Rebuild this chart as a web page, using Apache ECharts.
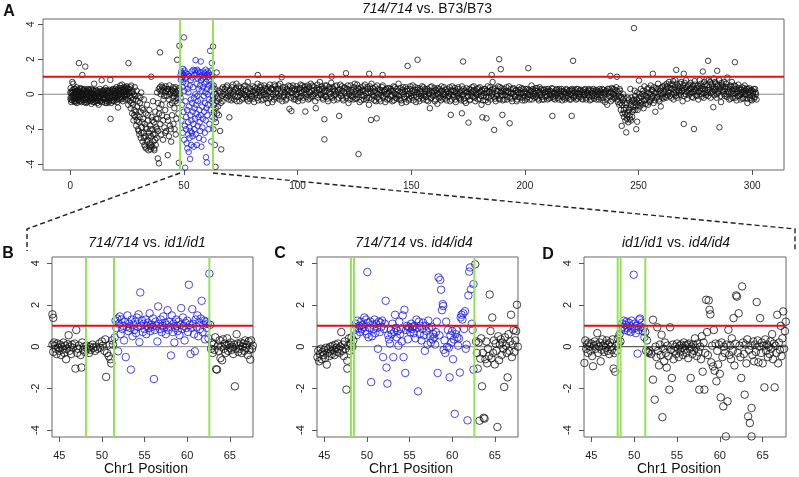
<!DOCTYPE html>
<html><head><meta charset="utf-8">
<script src="https://cdn.jsdelivr.net/npm/echarts@6/dist/echarts.min.js"></script>
<style>html,body{margin:0;padding:0;background:#fff}#c{width:799px;height:477px}</style>
</head><body><div id="c"></div>
<script>
// ---------- Panel A (genome-wide) ----------
const aXTicks = [0, 50, 100, 150, 200, 250, 300];
const yTicks = [-4, -2, 0, 2, 4];
const zoomXTicks = [45, 50, 55, 60, 65];
const redLevel = 1;
const greenA = [48.3, 62.8];
const greenB = [48.13, 51.42, 62.6];
const greenC = [48.13, 48.48, 62.6];
const greenD = [48.08, 48.42, 51.3];

const aLeft = [[0.0,0.1],[0.2,-0.3],[0.4,-0.45],[0.6,0.15],[0.9,0.7],[1.1,-0.1],[1.3,0.6],[1.5,-0.25],[1.8,0.05],[2.0,-0.4],[2.2,0.3],[2.5,-0.15],[2.7,0.2],[2.9,-0.5],[3.2,-0.05],[3.4,0.25],[3.6,-0.3],[3.8,1.78],[4.0,0.1],[4.3,-0.2],[4.5,0.35],[4.7,-0.35],[5.0,0.0],[5.3,1.1],[5.5,-0.25],[5.7,0.2],[6.0,-0.1],[6.2,-0.45],[6.6,1.58],[6.8,0.15],[7.0,-0.3],[7.3,0.05],[7.5,-0.2],[7.8,0.3],[8.0,-0.4],[8.3,-0.05],[8.5,0.2],[8.8,-0.25],[9.0,0.1],[9.3,-0.55],[9.5,-0.15],[9.8,0.25],[10.0,-0.3],[10.3,0.0],[10.5,0.6],[10.8,-0.2],[11.0,0.15],[11.3,-0.4],[11.5,-0.1],[11.8,0.2],[12.0,-0.35],[12.3,0.05],[12.5,-0.6],[12.8,-0.15],[13.0,0.3],[13.3,-0.25],[13.5,0.1],[13.8,0.8],[14.0,-0.45],[14.3,-0.05],[14.5,0.2],[14.8,-0.3],[15.0,0.0],[15.3,-0.2],[15.5,0.35],[15.8,-0.4],[16.0,-0.1],[16.3,0.15],[16.5,-0.3],[16.8,0.05],[17.0,-0.2],[17.3,0.25],[17.6,0.82],[17.7,-1.41],[18.0,-0.5],[18.3,0.1],[18.5,-0.15],[18.8,0.3],[19.0,-0.35],[19.3,0.0],[19.5,-0.2],[19.8,0.2],[20.0,-0.1],[20.3,0.4],[20.5,-0.3],[20.8,0.05],[21.0,-0.76],[21.3,0.2],[21.5,-0.05],[21.8,0.35],[22.0,0.5],[22.3,-0.15],[22.5,0.1],[22.8,0.55],[23.0,-0.1],[23.3,0.25],[23.5,0.4],[23.8,0.0],[24.0,0.3],[24.3,-0.3],[24.5,0.15],[24.8,0.45],[25.0,-0.05],[25.3,0.3],[25.6,1.78],[25.8,0.1]];
const aLeft2 = [[0.1,-0.2],[0.5,0.05],[0.8,-0.35],[1.0,0.25],[1.4,-0.05],[1.7,0.3],[1.9,-0.2],[2.3,-0.45],[2.6,0.1],[3.0,0.2],[3.3,-0.35],[3.7,0.0],[4.1,-0.4],[4.4,0.15],[4.8,-0.1],[5.1,0.3],[5.6,-0.05],[5.9,0.25],[6.4,-0.2],[6.9,-0.5],[7.2,0.2],[7.6,0.0],[8.1,0.25],[8.4,-0.3],[8.9,0.1],[9.2,-0.2],[9.7,0.05],[10.1,-0.45],[10.4,-0.2],[10.9,-0.1],[11.2,0.25],[11.7,-0.3],[12.1,0.1],[12.6,-0.2],[13.1,-0.4],[13.6,0.0],[14.1,0.2],[14.6,-0.25],[15.1,0.25],[15.6,-0.05],[16.1,-0.5],[16.6,0.2],[17.1,-0.35],[17.5,-0.1],[18.1,0.15],[18.6,-0.4],[19.1,0.2],[19.6,-0.1],[20.1,0.05],[20.6,-0.45],[21.1,-0.1],[21.6,0.15],[22.1,-0.3],[22.6,0.25],[23.1,-0.4],[23.6,0.1],[24.1,-0.15],[24.6,0.2],[25.1,0.35],[25.5,-0.6]];
const aLeft3 = [[0.15,0.35],[0.7,-0.15],[1.2,0.1],[1.6,-0.4],[2.1,0.15],[2.4,-0.1],[2.8,0.4],[3.1,-0.25],[3.5,0.1],[3.9,-0.15],[4.2,0.3],[4.6,-0.05],[4.9,-0.45],[5.2,0.1],[5.8,-0.35],[6.1,0.3],[6.5,0.0],[6.7,-0.3],[7.1,0.1],[7.4,-0.45],[7.9,-0.1],[8.2,0.1],[8.7,-0.4],[9.1,0.3],[9.6,-0.3],[9.9,0.0],[10.2,0.2],[10.7,-0.45],[11.1,-0.25],[11.6,0.05],[11.9,-0.5],[12.4,-0.1],[12.9,0.15],[13.4,-0.35],[13.9,0.05],[14.4,-0.2],[14.9,0.1],[15.4,-0.5],[15.9,0.2],[16.4,-0.2],[16.9,-0.45],[17.4,0.1],[17.9,-0.25],[18.4,0.25],[18.9,-0.1],[19.4,-0.4],[19.9,0.3],[20.4,-0.2],[20.9,0.25],[21.4,-0.3],[21.9,0.05],[22.4,0.35],[22.9,-0.25],[23.4,0.15],[23.9,-0.1],[24.4,0.4],[24.9,0.0],[25.4,-0.25]];
const aDip = [[26.0,0.3],[26.2,-0.4],[26.4,0.1],[26.6,-0.8],[26.8,0.5],[27.0,-0.2],[27.2,-1.1],[27.4,0.2],[27.6,-0.6],[27.8,-1.5],[28.0,0.0],[28.2,-0.9],[28.4,0.4],[28.6,-1.3],[28.8,-0.3],[29.0,-1.8],[29.2,0.2],[29.4,-0.7],[29.6,-1.2],[29.8,-2.0],[30.0,-0.1],[30.2,-1.6],[30.4,-2.3],[30.6,-0.5],[30.8,-1.0],[31.0,-2.5],[31.2,0.1],[31.4,-1.9],[31.6,-0.8],[31.8,-2.7],[32.0,-1.4],[32.2,-2.2],[32.4,-0.3],[32.6,-2.9],[32.8,-1.7],[33.0,-2.4],[33.2,-1.1],[33.4,-3.1],[33.6,-2.0],[33.8,-0.6],[34.0,-2.6],[34.2,-1.5],[34.4,-3.2],[34.6,-2.2],[34.8,-0.9],[35.0,-2.8],[35.2,-1.8],[35.4,-3.15],[35.6,1.0],[35.6,-2.4],[35.8,-1.3],[36.0,-3.0],[36.2,-2.0],[36.4,-0.4],[36.6,-2.7],[36.8,-1.6],[37.0,-3.2],[37.2,-2.3],[37.4,-1.0],[37.6,-2.9],[37.8,-1.9],[38.0,-2.5],[38.2,0.1],[38.4,-1.4],[38.5,-3.67],[38.7,-2.1],[38.9,0.3],[39.0,-3.95],[39.2,-0.8],[39.4,0.4],[39.5,2.39],[39.6,-1.7],[39.8,0.0],[40.0,-2.3],[40.2,0.5],[40.4,-1.2],[40.6,0.2],[40.8,-2.6],[41.0,-0.3],[41.2,0.35],[41.4,-1.9],[41.6,0.1],[41.8,-0.9],[42.0,0.45],[42.2,-2.1],[42.4,-0.1],[42.6,0.3],[42.9,-3.48],[43.0,-1.5],[43.2,0.15],[43.4,-2.4],[43.6,0.5],[43.8,-0.6],[44.0,0.0],[44.2,-2.0],[44.4,-2.71],[44.6,0.25],[44.8,-1.2],[45.0,-0.2],[45.2,0.4],[45.4,-1.7],[45.6,0.05],[45.8,-0.8],[46.0,0.3],[46.2,-0.4],[46.4,-2.3],[46.6,0.1],[46.8,-0.2],[47.0,1.97],[47.2,-0.5],[47.4,0.2],[47.6,-1.1],[47.8,-3.92],[48.0,2.77],[48.1,0.0]];
const aDip2 = [[26.1,-0.1],[26.5,0.4],[26.9,-0.5],[27.3,0.1],[27.7,-0.3],[28.1,-1.2],[28.5,-0.1],[28.9,-1.0],[29.3,-1.5],[29.7,-0.4],[30.1,-2.1],[30.5,-1.3],[30.9,-0.2],[31.3,-2.2],[31.7,-1.6],[32.1,-0.9],[32.5,-2.5],[32.9,-3.0],[33.3,-1.9],[33.7,-2.7],[34.1,-1.2],[34.5,-2.4],[34.9,-3.0],[35.3,-2.0],[35.7,-2.9],[36.1,-1.5],[36.5,-2.3],[36.9,-3.1],[37.3,-2.6],[37.7,-1.4],[38.1,-2.0],[38.6,-0.5],[39.1,-1.1],[39.7,0.2],[40.1,-0.6],[40.5,0.4],[40.9,-1.5],[41.3,-0.1],[41.7,-2.2],[42.1,0.2],[42.5,-1.3],[43.1,0.3],[43.5,-0.3],[43.9,-1.8],[44.3,0.1],[44.7,-0.5],[45.1,0.2],[45.5,-0.1],[45.9,-2.0],[46.3,0.4],[46.7,-1.4],[47.1,0.0],[47.5,-0.3],[47.9,0.35]];
const aBlue = [[48.5,1.1],[48.6,-0.2],[48.7,0.8],[48.8,1.3],[48.9,-1.5],[49.0,0.9],[49.1,1.2],[49.2,-0.6],[49.3,1.0],[49.4,0.4],[49.5,-2.2],[49.6,1.45],[49.7,0.7],[49.8,-1.0],[49.9,1.1],[50.0,3.25],[50.1,-2.6],[50.2,0.2],[50.3,1.35],[50.4,-1.8],[50.5,-4.2],[50.6,0.9],[50.7,-0.4],[50.8,1.2],[50.9,-2.0],[51.0,-1.3],[51.1,0.6],[51.2,-2.8],[51.3,1.0],[51.4,-0.9],[51.5,-3.1],[51.6,0.3],[51.7,1.15],[51.8,-1.6],[51.9,-2.3],[52.0,0.1],[52.1,-3.3],[52.2,-0.7],[52.3,1.05],[52.4,-1.9],[52.5,-2.5],[52.6,0.5],[52.7,-3.7],[52.8,-1.2],[52.9,-2.1],[53.0,0.8],[53.1,-0.3],[53.2,-2.9],[53.3,-1.5],[53.4,1.3],[53.5,-2.2],[53.6,-0.5],[53.7,0.95],[53.8,-2.4],[53.9,-1.0],[54.0,0.4],[54.1,1.4],[54.2,-1.7],[54.3,-3.0],[54.4,-0.2],[54.5,1.1],[54.6,-2.0],[54.7,-0.8],[54.8,1.35],[54.9,-1.4],[55.0,0.0],[55.1,1.95],[55.2,-2.3],[55.3,-0.6],[55.4,1.2],[55.5,-1.1],[55.6,0.6],[55.7,-2.9],[55.8,1.4],[55.9,-0.1],[56.0,-1.8],[56.1,0.9],[56.2,-0.4],[56.3,1.3],[56.4,-1.3],[56.5,0.3],[56.6,-2.5],[56.7,1.0],[56.8,-0.9],[56.9,-1.6],[57.0,0.5],[57.1,1.25],[57.2,-2.1],[57.3,-0.3],[57.4,1.87],[57.5,-1.2],[57.6,0.8],[57.7,-3.0],[57.8,0.2],[57.9,1.1],[58.0,-0.7],[58.1,-1.9],[58.2,0.9],[58.3,-1.4],[58.4,0.4],[58.5,1.3],[58.6,-2.6],[58.7,-0.1],[58.8,1.0],[58.9,-1.0],[59.0,0.6],[59.1,1.2],[59.2,-2.2],[59.3,-0.5],[59.4,0.1],[59.5,1.4],[59.6,-1.5],[59.7,-3.6],[59.8,0.7],[59.9,-0.8],[60.0,1.1],[60.1,-3.9],[60.2,0.3],[60.3,-1.2],[60.4,1.3],[60.5,0.0],[60.6,-0.6],[60.7,1.0],[60.8,-2.0],[60.9,0.5],[61.0,1.2],[61.1,-0.3],[61.2,-1.7],[61.3,0.8],[61.5,2.48],[61.6,1.1],[61.7,-0.9],[61.8,0.2],[61.9,1.35],[62.0,-2.7],[62.1,0.6],[62.2,-0.4],[62.3,1.78],[62.4,1.0],[62.5,-1.3],[62.6,0.4],[62.7,-0.1]];
const aTrans = [[62.8,2.73],[62.9,-0.3],[63.0,-2.0],[63.1,0.5],[63.2,-1.0],[63.3,-0.6],[63.4,0.1],[63.5,-1.4],[63.6,-2.9],[63.7,0.3],[63.9,-4.15],[64.0,-0.8],[64.1,-1.6],[64.2,0.0],[64.4,1.24],[64.5,-0.4],[64.6,-1.1],[64.8,-0.2],[65.0,-0.7],[65.2,0.2],[65.4,-1.2],[65.6,-0.3],[65.9,-2.1],[66.0,0.1],[66.2,-0.5],[66.4,-3.15],[66.6,0.3],[66.8,-0.1],[67.0,-0.4],[67.2,0.4],[67.4,0.0]];
const aBand1 = [[68.0,0.3],[68.5,-0.2],[69.0,0.5],[69.5,-0.1],[70.0,-1.32],[70.3,0.2],[70.8,-0.35],[71.2,0.4],[71.7,0.0],[72.2,-0.3],[72.6,0.25],[73.1,0.6],[73.5,-0.15],[74.0,0.1],[74.5,-0.4],[75.0,0.35],[75.4,0.05],[75.9,-0.2],[76.3,0.45],[76.8,-0.05],[77.2,0.2],[77.7,-0.3],[78.1,0.7],[78.6,0.0],[79.0,-0.25],[79.5,0.3],[80.0,-0.1],[80.4,0.15],[80.9,-0.45],[81.3,0.4],[81.8,0.05],[82.2,-0.2],[82.5,1.1],[82.9,0.25],[83.3,-0.1],[83.8,0.5],[84.2,-0.35],[84.7,0.1],[85.1,-0.05],[85.6,0.35],[86.0,-0.25],[86.5,0.2],[86.9,-0.5],[87.4,0.15],[87.8,0.55],[88.3,-0.15],[88.7,0.3],[89.2,0.0],[89.6,-0.3],[90.1,0.45],[90.5,0.1],[91.0,-0.2],[91.4,0.3],[91.9,-0.1],[92.3,0.6],[92.8,0.05],[93.0,0.97],[93.3,-0.4],[93.7,0.25],[94.2,-0.05],[94.6,0.4],[95.1,-0.25],[95.5,0.15],[96.0,0.5],[96.4,-0.84],[96.9,0.1],[97.3,-0.96],[97.7,0.35],[98.2,-0.15],[98.6,0.2],[99.1,-0.3],[99.5,0.45],[100.0,0.0],[100.4,0.3],[100.9,-0.2],[101.3,0.55],[101.8,0.1],[102.2,-0.35],[102.7,0.4],[103.1,0.0],[103.4,-0.99],[103.6,0.25],[104.0,-0.15],[104.5,0.5],[104.9,0.15],[105.4,-0.25],[105.8,0.6],[106.3,0.2],[106.7,-0.1],[107.2,0.45],[107.6,0.05],[108.0,-0.8],[108.5,0.35],[108.9,-0.2],[109.4,0.25],[109.8,0.7],[110.3,-0.05],[110.7,0.3],[111.2,-0.3],[111.6,0.15],[111.8,-1.43],[111.8,-2.58],[112.1,0.5],[112.5,-0.15],[113.0,0.2],[113.4,-0.4],[113.9,0.4],[114.3,0.0],[114.8,0.65],[115.0,1.01],[115.2,-0.2],[115.7,0.3],[116.1,-0.05],[116.6,0.45],[117.0,0.1],[117.5,-0.3],[117.9,0.25],[118.3,-1.24],[118.8,0.55],[119.2,-0.1],[119.7,0.2],[120.1,-0.35],[120.6,0.4],[121.0,0.05],[121.3,1.2],[121.5,-0.2],[121.9,0.3],[122.4,-0.5],[122.8,0.15],[123.3,0.5],[123.7,-0.1],[124.2,0.25],[124.6,-0.3],[125.1,0.6],[125.5,0.0],[126.0,-0.25],[126.4,0.35],[126.8,-3.42],[126.9,0.1],[127.3,-0.45],[127.8,0.4],[128.2,-0.05],[128.7,0.2],[129.1,-0.3],[129.6,0.55],[130.0,0.05],[130.5,-0.2],[130.9,0.3],[131.4,-0.6],[131.5,1.17],[131.8,0.45],[132.3,-1.47],[132.3,0.1],[132.7,-0.25],[133.2,0.35],[133.6,-0.1],[134.1,0.2],[134.5,-0.4],[134.8,-1.38],[135.0,0.5],[135.4,0.0],[135.9,-0.3],[136.3,0.25],[136.8,-0.05],[137.2,0.4],[137.4,1.1],[137.7,-0.2],[138.1,0.15],[138.6,-0.45],[139.0,0.3],[139.5,0.0]];
const aBand1b = [[68.2,-0.05],[68.7,0.4],[69.2,0.1],[69.7,-0.3],[70.1,0.25],[70.6,0.05],[71.0,-0.2],[71.5,0.55],[71.9,0.15],[72.4,-0.1],[72.9,0.35],[73.3,-0.4],[73.8,0.2],[74.2,0.45],[74.7,-0.05],[75.2,0.15],[75.6,-0.3],[76.1,0.3],[76.5,0.0],[77.0,0.5],[77.4,-0.15],[77.9,0.1],[78.3,-0.4],[78.8,0.35],[79.2,0.15],[79.7,-0.1],[80.2,0.45],[80.6,-0.25],[81.1,0.2],[81.5,-0.05],[82.0,0.3],[82.4,0.6],[82.7,-0.35],[83.1,0.15],[83.5,0.4],[84.0,0.05],[84.4,0.25],[84.9,-0.3],[85.3,0.5],[85.8,0.0],[86.2,0.3],[86.7,-0.1],[87.1,0.4],[87.6,-0.25],[88.0,0.1],[88.5,0.35],[88.9,-0.45],[89.4,0.25],[89.8,0.55],[90.3,-0.15],[90.7,0.3],[91.2,0.0],[91.6,0.5],[92.1,-0.3],[92.5,0.2],[93.5,0.4],[93.9,-0.15],[94.4,0.1],[94.8,-0.35],[95.3,0.3],[95.7,-0.05],[96.2,0.2],[96.7,0.45],[97.1,-0.2],[97.5,0.05],[98.0,0.5],[98.4,-0.3],[98.9,0.3],[99.3,0.0],[99.8,0.25],[100.2,-0.4],[100.7,0.1],[101.1,0.35],[101.6,-0.1],[102.0,0.5],[102.5,-0.2],[102.9,0.25],[103.3,0.45],[103.8,0.05],[104.2,0.3],[104.7,-0.3],[105.1,0.4],[105.6,0.1],[106.0,-0.15],[106.5,0.5],[106.9,0.0],[107.4,0.25],[107.8,-0.4],[108.3,0.15],[108.7,0.55],[109.2,-0.05],[109.6,0.3],[110.1,0.0],[110.5,0.45],[111.0,-0.2],[111.4,0.35],[111.9,-0.1],[112.3,0.2],[112.8,0.5],[113.2,-0.25],[113.7,0.1],[114.1,0.3],[114.6,-0.15],[115.4,0.4],[115.9,-0.35],[116.3,0.2],[116.8,0.0],[117.2,0.5],[117.7,0.15],[118.1,-0.2],[118.6,0.3],[119.0,0.05],[119.5,0.45],[119.9,-0.25],[120.4,0.15],[120.8,0.35],[121.7,-0.1],[122.1,0.5],[122.6,0.0],[123.0,-0.3],[123.5,0.25],[123.9,0.1],[124.4,-0.15],[124.8,0.4],[125.3,-0.25],[125.7,0.2],[126.2,0.55],[126.6,-0.05],[127.1,0.3],[127.5,0.1],[128.0,-0.35],[128.4,0.25],[128.9,0.45],[129.3,-0.1],[129.8,0.2],[130.2,-0.3],[130.7,0.4],[131.1,0.1],[131.6,-0.2],[132.0,0.3],[132.5,0.6],[132.9,-0.05],[133.4,0.15],[133.8,-0.35],[134.3,0.4],[134.7,0.05],[135.2,-0.2],[135.6,0.3],[136.1,0.1],[136.5,-0.4],[137.0,0.2],[137.5,0.5],[137.9,-0.1],[138.4,0.25],[138.8,0.0],[139.3,-0.3],[139.7,0.35]];
const aBand2 = [[139.9,-0.25],[140.4,0.35],[140.8,-0.1],[141.3,0.2],[141.7,-0.4],[142.2,0.45],[142.6,0.05],[143.1,-0.2],[143.5,0.3],[144.0,-0.05],[144.4,0.6],[144.9,-0.3],[145.3,0.15],[145.8,-0.5],[146.2,0.25],[146.7,0.0],[147.1,-0.25],[147.6,0.4],[148.0,-0.1],[148.4,1.62],[148.5,0.2],[148.9,-0.35],[149.4,0.3],[149.8,0.05],[150.3,-0.2],[150.7,0.5],[151.2,-0.05],[151.6,0.25],[152.1,-0.45],[152.5,0.1],[152.8,1.97],[153.0,0.35],[153.4,-0.25],[153.9,0.15],[154.3,-0.1],[154.8,0.45],[155.2,-0.3],[155.7,0.0],[156.1,0.3],[156.6,-0.15],[157.0,0.2],[157.5,-0.4],[157.9,0.05],[158.2,-0.8],[158.4,0.4],[158.8,-0.2],[159.3,0.1],[159.7,-0.05],[160.2,0.35],[160.6,-0.3],[161.1,0.2],[161.5,-0.55],[162.0,0.0],[162.4,0.3],[162.9,-0.15],[163.3,0.45],[163.8,-0.25],[164.2,0.1],[164.7,-0.05],[165.1,0.25],[165.6,-0.35],[166.0,0.15],[166.5,-0.1],[166.9,0.4],[167.4,-1.18],[167.4,0.0],[167.8,-0.3],[168.3,0.2],[168.7,-0.15],[169.2,0.35],[169.6,-0.45],[170.1,0.05],[170.5,0.3],[171.0,-0.2],[171.4,0.1],[171.9,-0.35],[172.3,-1.09],[172.3,0.45],[172.8,1.87],[172.8,0.0],[173.2,-0.25],[173.7,0.2],[174.1,-0.5],[174.6,0.15],[175.0,-0.1],[175.2,-1.62],[175.5,0.3],[175.9,-0.3],[176.4,0.05],[176.8,0.4],[177.3,-0.15],[177.7,0.25],[178.2,-0.4],[178.6,0.1],[179.1,-0.05],[179.5,0.35],[180.0,-0.25],[180.4,0.15],[180.9,-0.6],[181.3,-1.32],[181.3,0.2],[181.8,-0.1],[182.2,0.3],[182.7,-0.35],[183.1,-1.38],[183.1,0.05],[183.6,0.45],[184.0,-0.2],[184.5,0.1],[184.9,-0.3],[185.4,1.1],[185.4,0.25],[185.8,0.7],[186.3,-0.15],[186.5,-2.04],[186.7,0.35],[187.2,-0.4],[187.6,0.0],[188.1,0.2],[188.5,-0.25],[188.7,2.0],[189.0,0.4],[189.4,1.43],[189.4,-0.1],[189.9,0.15],[190.1,-1.18],[190.3,-0.35],[190.8,0.3],[191.2,-0.05],[191.7,0.2],[192.1,-0.3],[192.6,0.1],[193.0,0.45],[193.3,-1.66],[193.5,-0.2],[193.9,0.05],[194.4,-0.4],[194.8,0.3],[195.3,0.0],[195.7,-0.15],[196.2,0.25],[196.6,-0.3],[197.1,0.1],[197.5,0.4],[198.0,-0.2],[198.4,0.05],[198.9,-0.35],[199.3,0.3],[199.8,-0.1]];
const aBand2b = [[140.1,0.15],[140.6,-0.3],[141.0,0.3],[141.5,-0.05],[141.9,0.2],[142.4,-0.35],[142.8,0.4],[143.3,0.0],[143.7,-0.25],[144.2,0.2],[144.6,-0.1],[145.1,0.35],[145.5,-0.35],[146.0,0.1],[146.4,0.4],[146.9,-0.15],[147.3,0.2],[147.8,-0.45],[148.2,0.3],[148.7,0.0],[149.1,-0.25],[149.6,0.45],[150.0,-0.1],[150.5,0.2],[150.9,-0.35],[151.4,0.1],[151.8,0.4],[152.3,-0.15],[152.7,0.25],[153.2,0.0],[153.6,-0.4],[154.1,0.3],[154.5,0.05],[155.0,-0.2],[155.4,0.4],[155.9,-0.1],[156.3,0.15],[156.8,-0.35],[157.2,0.3],[157.7,0.0],[158.1,0.2],[158.6,-0.25],[159.0,0.45],[159.5,-0.1],[159.9,0.15],[160.4,-0.4],[160.8,0.25],[161.3,0.0],[161.7,0.35],[162.2,-0.2],[162.6,0.1],[163.1,-0.35],[163.5,0.2],[164.0,0.0],[164.4,0.4],[164.9,-0.25],[165.3,0.1],[165.8,0.3],[166.2,-0.15],[166.7,0.05],[167.1,-0.4],[167.6,0.25],[168.0,0.45],[168.5,-0.05],[168.9,0.15],[169.4,-0.3],[169.8,0.2],[170.3,-0.1],[170.7,0.4],[171.2,0.0],[171.6,-0.25],[172.1,0.2],[172.5,-0.05],[173.0,0.3],[173.4,-0.4],[173.9,0.1],[174.3,0.35],[174.8,-0.15],[175.3,0.05],[175.7,-0.35],[176.2,0.25],[176.6,-0.1],[177.1,0.15],[177.5,0.45],[178.0,-0.2],[178.4,0.0],[178.9,0.3],[179.3,-0.3],[179.8,0.1],[180.2,0.4],[180.7,-0.1],[181.1,0.25],[181.6,-0.35],[182.0,0.05],[182.5,0.3],[182.9,-0.15],[183.4,0.2],[183.8,-0.45],[184.3,0.15],[184.7,0.4],[185.2,-0.1],[185.6,0.05],[186.1,0.3],[186.9,-0.25],[187.4,0.2],[187.8,-0.1],[188.3,0.45],[188.9,-0.3],[189.2,0.1],[189.7,0.35],[190.1,-0.05],[190.6,0.2],[191.0,-0.3],[191.5,0.1],[191.9,0.4],[192.4,-0.15],[192.8,0.15],[193.7,0.3],[194.1,-0.25],[194.6,0.05],[195.0,0.35],[195.5,-0.1],[195.9,0.2],[196.4,-0.4],[196.8,0.1],[197.3,-0.15],[197.7,0.25],[198.2,0.0],[198.6,0.35],[199.1,-0.2],[199.5,0.1],[200.0,-0.35]];
const aBand3 = [[200.2,0.15],[200.7,-0.25],[201.1,0.3],[201.5,1.49],[201.6,0.0],[202.0,-0.3],[202.5,0.2],[202.9,0.5],[203.4,-0.1],[203.8,0.1],[204.3,-0.2],[204.7,0.35],[205.2,-0.05],[205.6,0.2],[206.1,-0.35],[206.5,0.4],[207.0,0.05],[207.4,-0.15],[207.9,0.25],[208.3,-0.3],[208.8,0.1],[209.2,0.3],[209.7,-0.1],[210.1,0.15],[210.6,-0.25],[211.0,0.2],[211.5,-0.05],[211.9,0.35],[212.1,-1.24],[212.4,-0.15],[212.8,0.1],[213.3,-0.3],[213.7,0.25],[214.2,0.0],[214.6,-0.2],[215.1,0.3],[215.5,-0.1],[216.0,0.15],[216.4,-0.35],[216.9,0.2],[217.3,0.0],[217.8,-0.2],[218.2,0.3],[218.7,-0.1],[219.1,0.1],[219.6,-0.3],[220.0,0.25],[220.6,-1.24],[220.5,-0.05],[220.9,0.2],[221.2,1.91],[221.4,-0.2],[221.8,0.1],[222.3,-0.1],[222.7,0.3],[223.2,-0.25],[223.6,0.05],[224.1,0.2],[224.5,-0.15],[225.0,0.1],[225.4,-0.3],[225.9,0.25],[226.3,0.0],[226.8,-0.2],[227.2,0.15],[227.7,-0.05],[228.1,0.3],[228.6,-0.35],[229.0,0.1],[229.5,-0.1],[229.9,0.2],[230.4,-0.25],[230.8,0.05],[231.3,0.25],[231.7,-0.15],[232.2,0.1],[232.6,-0.3],[233.1,0.2],[233.5,-0.05],[234.0,0.3],[234.4,-0.2],[234.9,0.1],[235.3,-0.45],[235.8,0.2],[236.2,-0.6],[236.7,0.05],[237.1,0.3],[237.6,1.05],[237.6,-0.15],[238.0,0.15],[238.5,-0.3],[238.9,0.3],[239.4,0.0],[239.8,-0.2]];
const aBand3b = [[200.4,0.3],[200.9,0.05],[201.3,-0.15],[201.8,0.25],[202.2,-0.05],[202.7,0.15],[203.1,-0.3],[203.6,0.3],[204.0,0.0],[204.5,0.2],[204.9,-0.15],[205.4,0.35],[205.8,-0.25],[206.3,0.1],[206.7,-0.05],[207.2,0.3],[207.6,-0.3],[208.1,0.05],[208.5,0.25],[209.0,-0.15],[209.4,0.15],[209.9,-0.3],[210.3,0.3],[210.8,0.0],[211.2,-0.2],[211.7,0.15],[212.2,0.3],[212.6,-0.25],[213.1,0.05],[213.5,-0.1],[214.0,0.3],[214.4,0.1],[214.9,-0.3],[215.3,0.2],[215.8,0.0],[216.2,0.3],[216.7,-0.15],[217.1,0.15],[217.6,-0.3],[218.0,0.05],[218.5,0.25],[218.9,-0.2],[219.4,0.2],[219.8,0.0],[220.3,-0.3],[220.7,0.3],[221.1,0.05],[221.6,-0.15],[222.0,0.25],[222.5,-0.3],[222.9,0.1],[223.4,0.3],[223.8,-0.15],[224.3,0.0],[224.7,0.25],[225.2,-0.25],[225.6,0.15],[226.1,-0.05],[226.5,0.3],[227.0,-0.3],[227.4,0.05],[227.9,0.2],[228.3,-0.15],[228.8,0.25],[229.2,-0.3],[229.7,0.05],[230.1,0.3],[230.6,-0.1],[231.0,0.15],[231.5,-0.3],[231.9,0.2],[232.4,0.0],[232.8,0.3],[233.3,-0.2],[233.7,0.1],[234.2,-0.35],[234.6,0.25],[235.1,0.0],[235.5,0.15],[236.0,-0.25],[236.4,0.3],[236.9,-0.1],[237.3,0.1],[237.8,-0.4],[238.2,0.35],[238.7,0.0],[239.1,-0.2],[239.6,0.25]];
const aDip3 = [[240.2,0.4],[240.5,1.0],[240.7,-0.3],[241.1,0.1],[241.5,-0.6],[241.9,0.2],[242.2,-0.9],[242.6,-1.81],[242.6,-0.2],[243.0,-1.1],[243.3,0.0],[243.6,-1.3],[243.9,-0.5],[244.2,-1.5],[244.6,-2.18],[244.6,-0.8],[244.9,-1.4],[245.2,-0.2],[245.5,-1.6],[245.8,-0.9],[246.1,-1.2],[246.4,0.3],[246.7,-1.5],[247.0,-0.4],[247.3,-1.0],[247.6,-0.7],[248.0,3.78],[248.0,-0.3],[248.3,0.2],[248.6,-0.9],[249.0,-2.0],[249.0,-0.5],[249.4,-1.57],[249.4,0.1],[249.8,-0.6],[250.2,0.78],[250.2,-0.2],[250.6,-0.7],[251.0,0.3],[251.4,-0.4],[251.8,0.0],[252.2,-0.8],[252.6,0.45],[253.0,-0.3],[253.4,-0.1],[253.8,0.3],[254.2,-0.6],[254.6,0.1],[255.0,-0.4],[255.4,0.5],[255.8,-0.2],[256.3,1.17],[256.2,0.2],[256.6,-0.5],[257.0,0.05],[257.4,-1.0],[257.8,0.35],[258.2,-0.15],[258.6,0.6],[259.0,-0.3],[259.4,0.2],[259.8,-0.7],[260.2,0.4],[260.6,0.0],[261.0,-0.25],[261.4,0.5],[261.8,0.1]];
const aRight = [[262.2,-0.2],[262.6,0.45],[263.0,0.15],[263.4,0.7],[263.8,-0.1],[264.2,0.35],[264.6,0.0],[265.0,0.55],[265.4,-0.3],[265.8,0.25],[266.2,0.8],[266.6,1.39],[266.6,0.1],[267.0,-0.2],[267.4,0.45],[267.8,0.2],[268.2,0.6],[268.6,-0.05],[269.0,0.35],[269.4,-0.4],[269.9,1.17],[269.9,-1.7],[269.9,0.25],[270.3,0.65],[270.7,0.0],[271.1,0.4],[271.5,-0.25],[271.9,0.2],[272.3,0.55],[272.7,0.05],[273.1,0.3],[273.5,-0.15],[273.9,0.5],[274.4,-1.99],[274.3,0.15],[274.7,0.75],[275.1,-0.05],[275.5,0.35],[275.9,0.1],[276.3,-0.3],[276.7,0.45],[277.1,0.2],[277.5,0.6],[277.9,0.0],[278.3,1.3],[278.3,0.3],[278.7,-0.2],[279.1,0.5],[279.5,0.1],[279.9,0.85],[280.3,0.25],[280.6,1.91],[280.7,-0.1],[281.1,0.4],[281.5,0.7],[281.9,0.05],[282.3,0.5],[282.9,-0.74],[282.7,0.3],[283.1,0.9],[283.5,0.2],[283.9,0.6],[284.3,-0.2],[284.6,1.34],[284.7,0.45],[285.1,0.1],[285.6,-1.89],[285.5,0.8],[285.9,0.3],[286.3,-0.45],[286.7,0.55],[287.1,0.15],[287.5,0.7],[287.9,-0.1],[288.3,0.4],[288.7,0.0],[289.1,0.95],[289.5,0.2],[289.9,-0.3],[290.3,0.5],[290.7,0.1],[291.1,0.7],[291.5,-0.2],[291.9,0.3],[292.4,1.83],[292.3,0.05],[292.7,0.45],[293.1,-0.35],[293.5,0.2],[293.9,0.55],[294.3,-0.1],[294.7,0.25],[295.1,0.0],[295.5,0.4],[295.9,-0.25],[296.3,0.15],[296.7,0.5],[297.1,-0.05],[297.5,0.3],[297.9,-0.5],[298.3,0.1],[298.7,0.35],[299.1,-0.2],[299.5,0.2],[299.9,-0.35],[300.3,0.05],[300.7,0.3],[301.1,-0.15],[301.5,0.1],[301.9,-0.3]];
const aRight2 = [[240.0,-0.1],[240.4,0.2],[240.9,-0.45],[241.3,-0.1],[241.7,0.3],[242.0,-0.5],[242.4,-0.15],[242.8,-0.6],[243.1,-0.3],[243.5,-0.9],[243.8,-0.2],[244.0,-1.1],[244.4,-0.6],[244.8,-1.2],[245.0,-0.5],[245.4,-1.0],[245.7,-0.3],[246.0,-0.8],[246.3,-1.4],[246.6,-0.6],[246.9,-0.2],[247.2,-1.3],[247.5,-0.35],[247.8,-0.9],[248.2,-0.5],[248.5,-0.1],[248.8,-0.7],[249.2,-0.3],[249.6,-0.9],[250.0,-0.4],[250.4,0.0],[250.8,-0.5],[251.2,-0.15],[251.6,-0.6],[252.0,0.2],[252.4,-0.35],[252.8,-0.05],[253.2,-0.55],[253.6,0.1],[254.0,-0.2],[254.4,0.35],[254.8,-0.45],[255.2,0.0],[255.6,-0.3],[256.0,0.25],[256.4,-0.1],[256.8,0.4],[257.2,-0.35],[257.6,0.1],[258.0,-0.2],[258.4,0.3],[258.8,0.0],[259.2,-0.4],[259.6,0.35],[260.0,0.05],[260.4,-0.2],[260.8,0.45],[261.2,0.15],[261.6,-0.15],[262.0,0.3],[262.4,0.6],[262.8,-0.05],[263.2,0.35],[263.6,0.1],[264.0,0.55],[264.4,-0.2],[264.8,0.3],[265.2,0.75],[265.6,0.05],[266.0,0.4],[266.4,-0.1],[266.8,0.6],[267.2,0.25],[267.6,-0.05],[268.0,0.4],[268.4,0.1],[268.8,0.7],[269.2,0.2],[269.6,0.5],[270.1,-0.1],[270.5,0.35],[270.9,0.8],[271.3,0.15],[271.7,0.5],[272.1,-0.05],[272.5,0.3],[272.9,0.65],[273.3,0.1],[273.7,0.4],[274.1,-0.2],[274.5,0.3],[274.9,0.55],[275.3,0.2],[275.7,-0.1],[276.1,0.5],[276.5,0.15],[276.9,0.8],[277.3,0.35],[277.7,-0.15],[278.1,0.45],[278.5,0.05],[278.9,0.7],[279.3,0.3],[279.7,-0.05],[280.1,0.5],[280.5,0.1],[280.9,0.8],[281.3,0.25],[281.7,-0.2],[282.1,0.6],[282.5,0.15],[282.9,0.4],[283.3,-0.05],[283.7,0.7],[284.1,0.3],[284.5,0.0],[284.9,0.55],[285.3,0.2],[285.7,0.4],[286.1,-0.1],[286.5,0.65],[286.9,0.25],[287.3,0.45],[287.7,0.0],[288.1,0.3],[288.5,0.6],[288.9,-0.15],[289.3,0.4],[289.7,0.1],[290.1,0.3],[290.5,-0.25],[290.9,0.45],[291.3,0.2],[291.7,0.0],[292.1,0.5],[292.5,-0.2],[292.9,0.3],[293.3,0.1],[293.7,-0.1],[294.1,0.35],[294.5,0.05],[294.9,-0.3],[295.3,0.25],[295.7,0.1],[296.1,-0.2],[296.5,0.35],[296.9,0.0],[297.3,0.2],[297.7,-0.25],[298.1,0.3],[298.5,-0.05],[298.9,0.15],[299.3,-0.3],[299.7,0.25],[300.1,-0.1],[300.5,0.15],[300.9,-0.25],[301.3,0.3],[301.7,0.0]];

// ---------- Panel B ----------
const bBlackL = [[44.2,1.55],[44.3,1.38],[44.2,0.1],[44.3,-0.25],[44.4,0.2],[44.5,0.05],[44.6,-0.1],[44.7,-0.35],[44.8,0.15],[44.9,-0.05],[45.0,-0.2],[45.1,0.1],[45.2,-0.4],[45.3,0.0],[45.4,-0.15],[45.5,0.2],[45.6,-0.3],[45.7,0.05],[45.8,-0.6],[45.9,-0.1],[46.0,0.12],[46.1,0.55],[46.2,-0.2],[46.3,0.0],[46.4,-0.35],[46.5,0.1],[46.6,-0.05],[46.8,0.15],[46.9,-1.05],[47.0,0.8],[47.1,-0.3],[47.2,-0.1],[47.3,0.05],[47.5,-0.4],[47.6,-1.0],[47.7,0.2],[47.8,-0.15],[47.9,0.0],[48.0,-0.25],[48.2,0.05],[48.3,-0.1],[48.5,-0.3],[48.6,0.0],[48.7,-0.15],[48.9,0.1],[49.0,-0.05],[49.2,-0.2],[49.3,0.0],[49.5,-0.1],[49.7,0.15],[49.8,-0.05],[50.0,0.25],[50.1,0.05],[50.3,-0.2],[50.4,0.35],[50.5,-1.45],[50.6,-0.3],[50.8,-0.45],[50.9,0.1],[51.0,-0.6],[51.1,-0.8],[51.2,0.3],[51.3,0.1]];
const bBlue = [[51.5,0.45],[51.6,1.25],[51.7,0.9],[51.8,1.35],[51.9,-0.22],[52.0,1.1],[52.1,1.45],[52.2,0.6],[52.3,1.3],[52.4,0.85],[52.5,1.0],[52.6,0.3],[52.7,1.2],[52.8,-0.5],[52.9,0.95],[53.0,1.5],[53.1,0.75],[53.2,1.1],[53.3,0.9],[53.4,-1.1],[53.5,1.3],[53.6,0.5],[53.7,1.05],[53.8,0.8],[53.9,1.2],[54.0,0.65],[54.1,1.4],[54.2,0.95],[54.3,1.55],[54.4,0.22],[54.5,2.6],[54.6,1.0],[54.7,1.25],[54.8,0.7],[54.9,1.1],[55.0,0.85],[55.1,1.3],[55.2,0.6],[55.3,1.0],[55.4,1.15],[55.5,0.9],[55.6,1.6],[55.7,0.75],[55.8,1.05],[55.9,0.95],[56.0,1.35],[56.1,-1.55],[56.2,0.8],[56.3,1.2],[56.4,1.0],[56.5,0.25],[56.6,1.93],[56.7,1.1],[56.8,0.85],[56.9,1.3],[57.0,0.7],[57.1,1.0],[57.2,1.45],[57.3,0.9],[57.4,1.15],[57.5,0.6],[57.6,1.05],[57.7,1.75],[57.8,0.8],[57.9,1.2],[58.0,0.95],[58.1,-0.42],[58.2,1.5],[58.3,0.7],[58.4,1.1],[58.5,0.2],[58.6,0.9],[58.7,1.3],[58.8,1.0],[58.9,0.75],[59.0,1.2],[59.1,0.55],[59.2,1.05],[59.3,1.85],[59.4,0.85],[59.5,1.4],[59.6,1.0],[59.7,0.3],[59.8,1.15],[59.9,0.9],[60.0,1.25],[60.1,0.7],[60.2,2.97],[60.3,1.05],[60.4,-0.35],[60.5,0.9],[60.6,1.8],[60.7,1.1],[60.8,0.6],[60.9,-0.22],[61.0,1.3],[61.1,0.95],[61.2,1.5],[61.3,0.5],[61.4,1.15],[61.5,0.85],[61.6,1.35],[61.7,2.2],[61.8,0.7],[61.9,1.05],[62.0,1.25],[62.1,0.35],[62.2,1.2],[62.3,0.9],[62.4,1.1],[62.5,0.4],[62.6,3.5]];
const bBlackR = [[62.7,1.05],[62.8,-0.1],[62.9,0.2],[63.0,-0.3],[63.1,0.1],[63.2,-0.15],[63.3,0.45],[63.4,-1.08],[63.5,-1.1],[63.6,0.05],[63.7,-0.2],[63.8,0.3],[63.9,-0.55],[64.0,0.0],[64.1,-0.65],[64.2,0.35],[64.3,-0.1],[64.4,0.15],[64.5,-0.3],[64.6,0.05],[64.7,0.4],[64.8,-0.2],[64.9,0.1],[65.0,-0.05],[65.1,0.2],[65.2,-0.15],[65.3,0.0],[65.4,-0.35],[65.5,0.1],[65.6,-1.9],[65.7,-0.1],[65.8,0.6],[65.9,0.15],[66.0,-0.25],[66.1,0.05],[66.2,-0.1],[66.3,0.2],[66.4,-0.3],[66.5,0.0],[66.6,0.15],[66.7,-0.2],[66.8,0.3],[66.9,-0.05],[67.0,0.1],[67.1,-0.4],[67.2,0.25],[67.3,-0.15],[67.4,-0.62],[67.5,0.3],[67.6,-0.1],[67.7,0.05]];

// ---------- Panel C ----------
const cBlackL = [[44.1,-1.34],[44.2,-0.5],[44.3,-0.2],[44.4,-0.7],[44.5,-0.35],[44.6,-0.1],[44.7,-0.6],[44.8,-0.25],[44.9,-0.4],[45.0,-0.15],[45.1,-0.55],[45.2,-0.05],[45.3,-0.86],[45.4,-0.3],[45.5,-0.1],[45.6,-0.45],[45.7,0.0],[45.8,-0.2],[45.9,-0.35],[46.0,0.05],[46.1,-0.15],[46.2,-0.4],[46.3,0.1],[46.4,-0.05],[46.5,-0.25],[46.6,0.15],[46.7,-0.1],[46.8,-0.3],[46.9,0.0],[47.0,0.7],[47.1,-0.2],[47.2,0.1],[47.3,-0.45],[47.4,0.25],[47.5,-0.1],[47.6,-2.06],[47.7,-1.05],[47.7,-0.67],[47.8,0.05],[47.9,0.4],[48.0,-0.2],[48.1,0.15],[48.2,0.45],[48.3,0.0],[48.4,0.3]];
const cBlue = [[48.6,0.8],[48.7,1.1],[48.8,0.55],[48.9,1.25],[49.0,0.9],[49.1,1.0],[49.2,0.7],[49.3,1.2],[49.4,0.85],[49.5,1.05],[49.6,0.95],[49.7,1.4],[49.8,0.75],[49.9,1.3],[50.0,0.6],[50.05,3.58],[50.1,1.15],[50.2,0.45],[50.3,0.9],[50.4,1.2],[50.5,-1.7],[50.6,0.5],[50.7,1.05],[50.8,0.85],[50.9,1.3],[51.0,0.65],[51.1,1.1],[51.2,0.9],[51.3,-0.1],[51.4,1.2],[51.5,0.7],[51.6,1.15],[51.7,0.95],[51.8,1.25],[51.9,-0.5],[52.0,0.85],[52.1,1.1],[52.2,2.2],[52.3,-1.0],[52.4,-1.77],[52.5,0.55],[52.6,0.35],[52.7,0.15],[52.8,0.8],[52.9,0.6],[53.0,1.1],[53.1,-0.5],[53.2,0.7],[53.3,1.53],[53.4,0.9],[53.5,0.45],[53.6,0.75],[53.7,0.05],[53.8,1.2],[53.9,0.6],[54.0,0.85],[54.1,0.25],[54.2,1.5],[54.3,-0.5],[54.4,1.77],[54.5,-1.26],[54.6,0.8],[54.7,1.0],[54.8,0.35],[54.9,0.95],[55.0,0.9],[55.1,0.7],[55.2,1.1],[55.3,0.85],[55.4,0.95],[55.5,0.65],[55.6,1.0],[55.7,0.4],[55.8,1.3],[55.9,0.9],[56.0,-2.14],[56.1,1.2],[56.2,0.6],[56.3,1.0],[56.4,0.3],[56.5,0.85],[56.6,1.15],[56.7,0.55],[56.8,-0.2],[56.9,1.0],[57.0,0.75],[57.1,0.1],[57.2,1.25],[57.3,0.9],[57.4,0.5],[57.5,0.2],[57.6,0.95],[57.7,0.35],[57.8,0.6],[57.9,0.45],[58.0,0.1],[58.1,0.7],[58.2,1.2],[58.3,-1.26],[58.4,3.32],[58.5,0.55],[58.6,3.2],[58.7,2.73],[58.8,1.75],[58.9,2.04],[58.95,1.95],[59.0,-0.15],[59.1,0.3],[59.2,-0.3],[59.3,1.2],[59.4,0.0],[59.5,0.8],[59.6,-0.05],[59.7,-1.47],[59.8,0.55],[59.9,0.2],[60.0,0.75],[60.1,-0.6],[60.2,0.35],[60.3,-3.22],[60.4,0.6],[60.5,0.8],[60.6,0.45],[60.7,0.05],[60.8,0.4],[60.9,-1.24],[61.0,1.4],[61.1,1.53],[61.2,1.3],[61.3,1.6],[61.4,0.85],[61.5,1.7],[61.6,-0.1],[61.7,0.1],[61.8,-3.53],[61.9,2.46],[62.0,3.6],[62.1,3.8],[62.2,2.75],[62.3,1.1],[62.4,0.8],[62.5,3.0],[62.5,-1.1]];
const cBlackR = [[62.7,3.95],[62.8,0.25],[62.9,-0.3],[63.0,-1.05],[63.1,0.2],[63.2,-3.55],[63.3,-0.57],[63.4,0.4],[63.5,-1.9],[63.6,-0.3],[63.7,-3.41],[63.8,-3.45],[63.9,-0.6],[64.0,0.25],[64.1,-0.8],[64.2,-0.1],[64.3,-0.45],[64.4,2.5],[64.5,0.75],[64.6,-0.55],[64.7,1.4],[64.8,-0.3],[64.9,0.3],[65.0,-0.85],[65.1,0.15],[65.2,-0.2],[65.3,-3.85],[65.4,0.5],[65.5,-0.65],[65.6,0.1],[65.7,0.35],[65.8,-0.4],[65.9,0.2],[66.0,-0.1],[66.1,-1.93],[66.2,0.45],[66.3,0.05],[66.4,-0.3],[66.5,-1.47],[66.6,0.6],[66.7,-0.2],[66.8,0.25],[66.9,1.53],[67.0,-0.5],[67.1,0.1],[67.2,0.8],[67.3,-0.25],[67.4,0.3],[67.5,0.75],[67.6,2.01],[67.7,0.0]];

// ---------- Panel D ----------
const dBlackL = [[44.1,-2.1],[44.1,-2.94],[44.2,-0.78],[44.3,0.3],[44.4,-0.1],[44.5,0.1],[44.6,-0.3],[44.7,0.2],[44.8,0.0],[44.9,-0.2],[45.0,0.15],[45.1,-0.45],[45.2,-0.94],[45.3,0.05],[45.4,0.25],[45.5,-0.1],[45.6,0.1],[45.7,0.65],[45.8,-0.3],[45.9,0.0],[46.0,0.2],[46.1,-0.7],[46.2,-0.15],[46.3,0.35],[46.4,0.05],[46.5,-0.25],[46.6,0.15],[46.7,-0.05],[46.8,0.3],[46.9,-0.2],[47.0,0.1],[47.1,-0.35],[47.2,0.2],[47.3,0.0],[47.4,-0.15],[47.5,0.35],[47.6,-1.05],[47.7,-0.3],[47.8,-1.2],[47.9,0.05],[48.0,-0.2],[48.1,0.4],[48.2,0.15],[48.3,0.6],[48.4,0.25]];
const dBlue = [[48.5,0.85],[48.6,1.1],[48.7,0.95],[48.8,1.25],[48.9,0.8],[49.0,1.05],[49.1,1.2],[49.2,0.9],[49.3,0.75],[49.4,1.15],[49.5,1.0],[49.6,0.7],[49.7,1.25],[49.8,0.85],[49.95,3.45],[50.0,1.1],[50.1,0.9],[50.2,0.65],[50.3,1.0],[50.4,-0.33],[50.5,0.8],[50.6,1.3],[50.7,1.35],[50.8,0.95],[50.9,1.15],[51.0,0.75],[51.1,0.9],[51.2,0.45]];
const dBlackR = [[51.3,0.7],[51.4,-0.2],[51.5,0.3],[51.6,-0.25],[51.7,-0.3],[51.8,-0.2],[52.0,-0.35],[52.2,1.29],[52.2,-1.58],[52.4,-2.54],[52.5,0.0],[52.6,-0.5],[52.7,0.93],[52.8,-0.2],[52.9,-0.9],[53.0,0.1],[53.1,-0.4],[53.2,0.57],[53.3,-3.38],[53.4,-0.1],[53.5,-0.7],[53.6,0.2],[53.7,-0.3],[53.8,-1.0],[53.9,0.05],[54.0,-0.45],[54.1,-2.06],[54.2,0.93],[54.3,-0.15],[54.4,-1.5],[54.5,0.1],[54.6,-0.6],[54.7,-0.2],[54.8,0.0],[54.9,-0.35],[55.0,0.15],[55.1,-0.1],[55.2,-0.5],[55.3,0.05],[55.4,-0.25],[55.5,0.1],[55.6,-0.05],[55.7,-0.4],[55.8,0.2],[55.9,-0.15],[56.0,0.05],[56.1,-0.3],[56.2,0.1],[56.3,-0.55],[56.4,0.15],[56.5,-0.1],[56.6,-1.5],[56.7,0.0],[56.8,-0.35],[56.9,0.1],[57.0,-0.2],[57.1,0.4],[57.2,-0.05],[57.3,-0.45],[57.4,0.15],[57.5,-0.25],[57.6,-2.06],[57.7,0.0],[57.8,-0.6],[57.9,0.5],[58.0,-1.2],[58.1,0.2],[58.2,-2.06],[58.3,-0.3],[58.4,2.25],[58.5,0.7],[58.6,-0.4],[58.7,2.22],[58.8,1.77],[58.9,1.55],[59.0,-0.75],[59.1,0.05],[59.2,-0.95],[59.3,0.8],[59.4,-1.15],[59.5,0.15],[59.6,-1.66],[59.7,-0.2],[59.8,-0.85],[59.9,0.1],[60.0,-1.3],[60.1,-2.43],[60.2,0.2],[60.3,-0.5],[60.4,-2.86],[60.5,0.0],[60.6,-0.3],[60.7,-4.3],[60.8,0.1],[60.9,-2.62],[61.0,0.81],[61.1,-0.4],[61.2,0.05],[61.3,-0.6],[61.4,0.4],[61.5,-0.2],[61.6,1.37],[61.7,-0.9],[61.8,0.15],[61.9,2.46],[62.0,2.4],[62.1,-0.3],[62.2,1.6],[62.3,0.05],[62.4,-0.5],[62.5,-1.5],[62.6,2.89],[62.7,0.2],[62.8,-0.35],[62.9,-2.3],[63.0,0.1],[63.1,-0.8],[63.2,0.35],[63.3,-3.34],[63.4,-0.15],[63.5,-3.66],[63.6,0.05],[63.7,-2.94],[63.7,-4.3],[63.8,-0.4],[63.9,0.25],[64.0,-0.7],[64.1,0.1],[64.2,-0.25],[64.3,2.14],[64.4,0.3],[64.5,-0.75],[64.6,0.0],[64.7,1.37],[64.8,-0.3],[64.9,0.2],[65.0,-0.8],[65.1,0.05],[65.2,-1.95],[65.3,0.35],[65.4,-0.2],[65.5,0.1],[65.6,-0.5],[65.7,0.0],[65.8,-0.35],[65.9,0.25],[66.0,-0.1],[66.1,0.6],[66.2,-0.6],[66.3,0.15],[66.4,-1.95],[66.5,0.05],[66.6,-0.3],[66.7,1.53],[66.8,-0.8],[66.9,0.2],[67.0,-0.15],[67.1,1.0],[67.2,-0.45],[67.3,0.4],[67.4,1.69],[67.5,-0.1],[67.6,0.75],[67.7,1.2]];

// ---------- Build chart ----------
const FONT = 'Liberation Sans, Arial, Helvetica, sans-serif';
const Y_MIN = -4.33, Y_MAX = 4.3;
const A_MIN = -12, A_MAX = 314;
const Z_MIN = 44.15, Z_MAX = 67.72;

const grids = [
  {left: 43, top: 19, width: 741, height: 151},
  {left: 52, top: 257, width: 201, height: 180},
  {left: 317, top: 257, width: 201, height: 180},
  {left: 584, top: 257, width: 202, height: 180}
].map(g => Object.assign({show: true, borderColor: '#666', borderWidth: 1, backgroundColor: 'transparent'}, g));

function xAxis(i, min, max, ticks, fs, margin) {
  return {gridIndex: i, type: 'value', min, max, position: 'bottom', splitLine: {show: false},
    axisLine: {show: false, onZero: false},
    axisTick: {show: true, length: 5, customValues: ticks, lineStyle: {color: '#555'}},
    axisLabel: {customValues: ticks, fontSize: fs, color: '#222', margin, fontFamily: FONT}};
}
function yAxis(i, fs, margin) {
  return {gridIndex: i, type: 'value', min: Y_MIN, max: Y_MAX, position: 'left', splitLine: {show: false},
    axisLine: {show: false, onZero: false},
    axisTick: {show: true, length: 5, customValues: yTicks, lineStyle: {color: '#555'}},
    axisLabel: {customValues: yTicks, fontSize: fs, color: '#222', margin, rotate: 90, fontFamily: FONT}};
}
function pts(i, data, color, size) {
  return {type: 'scatter', xAxisIndex: i, yAxisIndex: i, data, symbol: 'circle', symbolSize: size, z: 2,
    silent: true, animation: false, large: false,
    itemStyle: {color: 'rgba(0,0,0,0)', borderColor: color, borderWidth: 1}};
}
function hline(i, y, xmin, xmax, color, w, z) {
  return {type: 'line', xAxisIndex: i, yAxisIndex: i, data: [[xmin, y], [xmax, y]], symbol: 'none', z,
    silent: true, animation: false, lineStyle: {color, width: w}};
}
function vline(i, x, color, w) {
  return {type: 'line', xAxisIndex: i, yAxisIndex: i, data: [[x, Y_MIN], [x, Y_MAX]], symbol: 'none', z: 4,
    silent: true, animation: false, lineStyle: {color, width: w}};
}
const RED = '#e01010', GREEN = '#96e05a', BLUE = '#1a1aee', BLACK = '#111';
const series = [];
// A
series.push(hline(0, 0, A_MIN, A_MAX, '#888', 1, 1));
series.push(pts(0, [].concat(aLeft, aLeft2, aLeft3, aDip, aDip2, aTrans, aBand1, aBand1b, aBand2, aBand2b,
  aBand3, aBand3b, aDip3, aRight, aRight2), BLACK, 5.5));
series.push(pts(0, aBlue, BLUE, 5.5));
series.push(hline(0, redLevel, A_MIN, A_MAX, RED, 2, 5));
greenA.forEach(x => series.push(vline(0, x, GREEN, 2)));
// B, C, D
const zoomPanels = [
  [1, bBlackL.concat(bBlackR), bBlue, greenB, '#888'],
  [2, cBlackL.concat(cBlackR), cBlue, greenC, '#888'],
  [3, dBlackL.concat(dBlackR), dBlue, greenD, '#333']
];
zoomPanels.forEach(([i, blk, blu, gr, zc]) => {
  series.push(hline(i, 0, Z_MIN, Z_MAX, zc, 1, 1));
  series.push(pts(i, blk, BLACK, 7.5));
  series.push(pts(i, blu, BLUE, 7.5));
  series.push(hline(i, redLevel, Z_MIN, Z_MAX, RED, 2, 5));
  gr.forEach(x => series.push(vline(i, x, GREEN, 2)));
});

const chart = echarts.init(document.getElementById('c'), null, {renderer: 'canvas'});
chart.setOption({
  animation: false,
  backgroundColor: '#fff',
  grid: grids,
  xAxis: [xAxis(0, A_MIN, A_MAX, aXTicks, 10, 11), xAxis(1, Z_MIN, Z_MAX, zoomXTicks, 11, 13),
          xAxis(2, Z_MIN, Z_MAX, zoomXTicks, 11, 13), xAxis(3, Z_MIN, Z_MAX, zoomXTicks, 11, 13)],
  yAxis: [yAxis(0, 10, 7), yAxis(1, 11, 11), yAxis(2, 11, 11), yAxis(3, 11, 11)],
  series
});

// ---------- Texts and connectors ----------
function richTitle(parts, cx, cy) {
  const rich = {
    i: {fontStyle: 'italic', fontSize: 14, fontFamily: FONT, fill: '#111'},
    n: {fontStyle: 'normal', fontSize: 14, fontFamily: FONT, fill: '#111'}
  };
  const text = parts.map(p => '{' + (p[1] ? 'i' : 'n') + '|' + p[0] + '}').join('');
  return {type: 'text', x: cx, y: cy, style: {text, rich, align: 'center', verticalAlign: 'middle', fontSize: 14, fontFamily: FONT}};
}
function plain(t, cx, cy, fs, bold) {
  return {type: 'text', x: cx, y: cy, style: {text: t, fontSize: fs, fontWeight: bold ? 'bold' : 'normal', fontFamily: FONT, fill: '#111', align: 'center', verticalAlign: 'middle'}};
}
const pL = chart.convertToPixel({gridIndex: 0}, [greenA[0], Y_MIN]);
const pR = chart.convertToPixel({gridIndex: 0}, [greenA[1], Y_MIN]);
const dash = {stroke: '#222', lineWidth: 1.4, lineDash: [5, 3], fill: null};
const graphics = [
  richTitle([['714/714', true], [' vs. B73/B73', false]], 427, 9),
  richTitle([['714/714', true], [' vs. ', false], ['id1/id1', true]], 147, 243),
  richTitle([['714/714', true], [' vs. ', false], ['id4/id4', true]], 414, 243),
  richTitle([['id1/id1', true], [' vs. ', false], ['id4/id4', true]], 676, 243),
  plain('A', 9, 12, 16, true),
  plain('B', 8, 254, 16, true),
  plain('C', 280, 254, 16, true),
  plain('D', 548, 255, 16, true),
  plain('Chr1 Position', 146, 469, 14, false),
  plain('Chr1 Position', 411, 469, 14, false),
  plain('Chr1 Position', 679, 469, 14, false),
  {type: 'polyline', shape: {points: [[pL[0], pL[1] + 3], [27, 229], [27, 251]]}, style: dash},
  {type: 'polyline', shape: {points: [[pR[0], pR[1] + 3], [795, 229], [795, 251]]}, style: dash}
];
chart.setOption({graphic: {elements: graphics}});
</script>
</body></html>
